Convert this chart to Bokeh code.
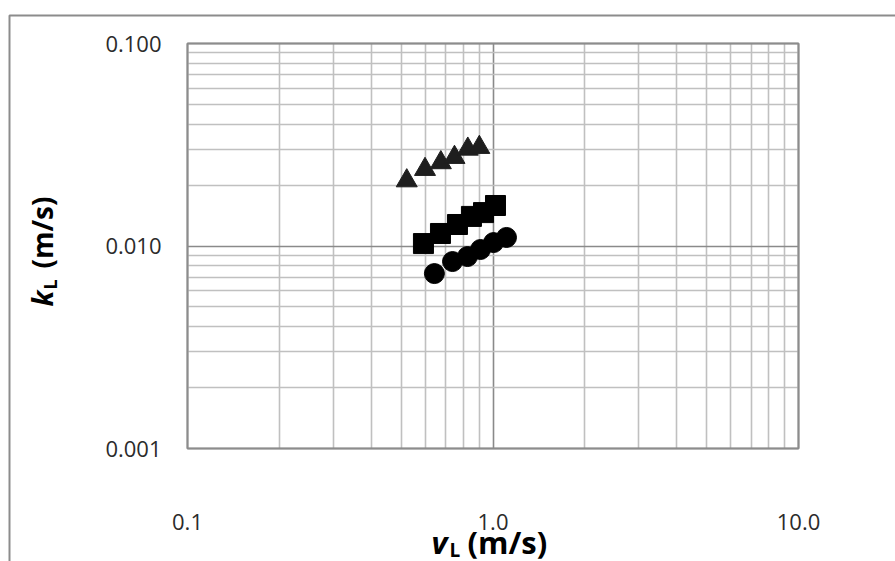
import math
from bokeh.plotting import figure
from bokeh.models import (Range1d, PrintfTickFormatter, Label, BoxAnnotation,
                          FixedTicker, Grid)
from bokeh.embed import file_html
from bokeh.resources import INLINE

# ---- data ----
tri_v = [0.522, 0.599, 0.675, 0.748, 0.827, 0.902]
tri_k = [0.0210, 0.0239, 0.0258, 0.0274, 0.0301, 0.0307]

sq_v = [0.592, 0.673, 0.765, 0.850, 0.931, 1.019]
sq_k = [0.01028, 0.01153, 0.01277, 0.01400, 0.01462, 0.01585]

ci_v = [0.643, 0.737, 0.825, 0.910, 1.004, 1.107]
ci_k = [0.00731, 0.00838, 0.00887, 0.00961, 0.01040, 0.01102]

x_major = [0.1, 1.0, 10.0]
y_major = [0.001, 0.01, 0.1]
x_title = "v"
y_title = "k"
sub_title = "L"
unit_title = "(m/s)"

# ---- page geometry (pixels) ----
W, H = 895, 561
PL, PR, PT, PB = 187, 798, 43, 448      # plot-area edges on the page
BORDER = "#8c8c8c"

# the frame fills the whole page; ranges are widened so that the
# axis limits land on the plot-area edges
lx0, lx1 = math.log10(x_major[0]), math.log10(x_major[-1])
ly0, ly1 = math.log10(y_major[0]), math.log10(y_major[-1])
dx = (lx1 - lx0) / (PR - PL)
dy = (ly1 - ly0) / (PB - PT)
x_rng = Range1d(10 ** (lx0 - PL * dx), 10 ** (lx1 + (W - PR) * dx))
y_rng = Range1d(10 ** (ly0 - (H - PB) * dy), 10 ** (ly1 + PT * dy))

def minors(decades):
    return [d * m for d in decades for m in range(2, 10)]

p = figure(width=W, height=H, x_axis_type="log", y_axis_type="log",
           x_range=x_rng, y_range=y_rng,
           output_backend="svg", toolbar_location=None,
           min_border=0, min_border_left=0, min_border_right=0,
           min_border_top=0, min_border_bottom=0)
p.background_fill_color = "white"
p.border_fill_color = "white"
p.outline_line_color = None

xt = FixedTicker(ticks=x_major, minor_ticks=minors(x_major[:-1]))
yt = FixedTicker(ticks=y_major, minor_ticks=minors(y_major[:-1]))

xa, ya = p.xaxis[0], p.yaxis[0]
xa.ticker, ya.ticker = xt, yt
xa.fixed_location = y_major[0]
ya.fixed_location = x_major[0]
xa.bounds = (x_major[0], x_major[-1])
ya.bounds = (y_major[0], y_major[-1])
for ax in (xa, ya):
    ax.axis_line_color = None
    ax.major_tick_line_color = None
    ax.minor_tick_line_color = None
    ax.major_label_text_font = "Open Sans"
    ax.major_label_text_font_size = "22px"
    ax.major_label_text_color = "#2b2b2b"
xa.formatter = PrintfTickFormatter(format="%.1f")
ya.formatter = PrintfTickFormatter(format="%.3f")
xa.major_label_standoff = 59
ya.major_label_standoff = 20

has_cross = "cross_bounds" in Grid.properties()
for g, t, b, cb in ((p.xgrid[0], xt, (x_major[0], x_major[-1]), (y_major[0], y_major[-1])),
                    (p.ygrid[0], yt, (y_major[0], y_major[-1]), (x_major[0], x_major[-1]))):
    g.ticker = t
    g.bounds = b
    if has_cross:
        g.cross_bounds = cb
    g.grid_line_color = "#8a8a8a"
    g.grid_line_width = 1.6
    g.minor_grid_line_color = "#c0c0c0"
    g.minor_grid_line_width = 1.6

if not has_cross:
    p.xgrid.visible = False
    p.ygrid.visible = False
    xm, ym = minors(x_major[:-1]), minors(y_major[:-1])
    p.segment(xm, [y_major[0]] * len(xm), xm, [y_major[-1]] * len(xm), line_color="#c0c0c0", line_width=1.6)
    p.segment([x_major[0]] * len(ym), ym, [x_major[-1]] * len(ym), ym, line_color="#c0c0c0", line_width=1.6)
    p.segment(x_major, [y_major[0]] * 3, x_major, [y_major[-1]] * 3, line_color="#8a8a8a", line_width=1.6)
    p.segment([x_major[0]] * 3, y_major, [x_major[-1]] * 3, y_major, line_color="#8a8a8a", line_width=1.6)

# plot-area border
p.add_layout(BoxAnnotation(left=x_major[0], right=x_major[-1], bottom=y_major[0], top=y_major[-1],
                           fill_alpha=0, line_color=BORDER, line_alpha=1, line_width=2,
                           level="underlay"))

p.scatter(ci_v, ci_k, marker="circle", size=20, fill_color="black", line_color="black")
p.scatter(sq_v, sq_k, marker="square", size=20, fill_color="black", line_color="black")
p.scatter(tri_v, tri_k, marker="triangle", size=21, fill_color="#1e1e1e", line_color="#1e1e1e")

# outer chart border (left and top edges only visible)
p.add_layout(BoxAnnotation(left=9, right=W + 20, top=H - 15, bottom=-20,
                           left_units="screen", right_units="screen",
                           top_units="screen", bottom_units="screen",
                           fill_alpha=0, line_color=BORDER, line_alpha=1, line_width=2))

def sy(y):  # page y (down) -> screen y (up)
    return H - y

TF = "Open Sans"
# horizontal title: v_L (m/s)
p.add_layout(Label(x=431, y=sy(541), x_units="screen", y_units="screen", text=x_title,
                   text_font=TF, text_font_size="31px", text_font_style="bold italic",
                   text_color="black", text_baseline="alphabetic", text_align="left"))
p.add_layout(Label(x=449, y=sy(549), x_units="screen", y_units="screen", text=sub_title,
                   text_font=TF, text_font_size="19px", text_font_style="bold",
                   text_color="black", text_baseline="alphabetic", text_align="left"))
p.add_layout(Label(x=467, y=sy(541), x_units="screen", y_units="screen", text=unit_title,
                   text_font=TF, text_font_size="31px", text_font_style="bold",
                   text_color="black", text_baseline="alphabetic", text_align="left"))

# vertical title: k_L (m/s)
ang = math.pi / 2
p.add_layout(Label(x=41, y=sy(306), x_units="screen", y_units="screen", text=y_title, angle=ang,
                   text_font=TF, text_font_size="28px", text_font_style="bold italic",
                   text_color="black", text_baseline="alphabetic", text_align="left"))
p.add_layout(Label(x=49, y=sy(289), x_units="screen", y_units="screen", text=sub_title, angle=ang,
                   text_font=TF, text_font_size="18px", text_font_style="bold",
                   text_color="black", text_baseline="alphabetic", text_align="left"))
p.add_layout(Label(x=41, y=sy(268), x_units="screen", y_units="screen", text=unit_title, angle=ang,
                   text_font=TF, text_font_size="28px", text_font_style="bold",
                   text_color="black", text_baseline="alphabetic", text_align="left"))

open("out.html", "w").write(file_html(p, INLINE))
